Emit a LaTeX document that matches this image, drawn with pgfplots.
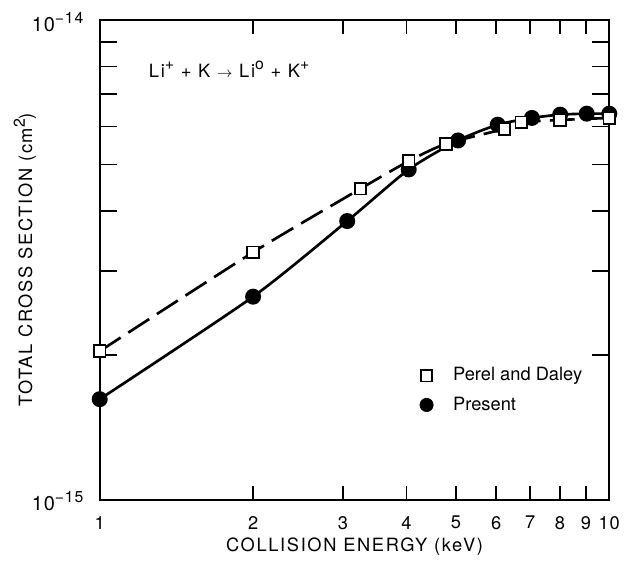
\documentclass[border=0pt]{standalone}
\usepackage{fontspec}
\setmainfont{TeX Gyre Heros}
\newfontfamily\lsfont[LetterSpace=9]{TeX Gyre Heros}
\newfontfamily\tkfont[LetterSpace=5]{TeX Gyre Heros}
\usepackage{pgfplots}
\pgfplotsset{compat=1.18}
\newcommand\sps[1]{\raisebox{0.75ex}{\fontsize{9.5}{9}\selectfont #1}}

\begin{document}
\fontsize{11}{13}\selectfont
\begin{tikzpicture}
  \begin{axis}[
    xmode=log, ymode=log,
    scale only axis,
    width=306.6pt, height=288.6pt,
    xmin=1, xmax=10, ymin=1e-15, ymax=1e-14,
    clip=false,
    /pgf/number format/assume math mode=true,
    xtick={1,2,3,4,5,6,7,8,9,10},
    xticklabels={1,2,3,4,5,6,7,8,9,10},
    ytick={1e-15,1e-14},
    yticklabels={10\sps{−15},10\sps{−14}},
    minor ytick={2e-15,3e-15,4e-15,5e-15,6e-15,7e-15,8e-15,9e-15},
    minor xtick={},
    axis line style={line width=1.3pt},
    every tick/.style={black, line width=1.1pt},
    major tick length=8.5pt,
    minor tick length=10.5pt,
    xticklabel style={yshift=-6pt, font=\tkfont},
    yticklabel style={xshift=-6pt, yshift=-1pt,
      font=\tkfont\fontsize{12}{13}\selectfont},
    xlabel={COLLISION ENERGY (keV)},
    ylabel={TOTAL CROSS SECTION (cm\sps{2})},
    xlabel style={at={(axis description cs:0.5,-0.0977)}, anchor=center,
      font=\lsfont},
    ylabel style={at={(axis description cs:-0.147,0.5)}, anchor=center,
      font=\lsfont},
    legend style={draw=none, fill=none, at={(axis description cs:0.618,0.29)},
      anchor=north west, row sep=4pt, cells={anchor=west},
      /tikz/every odd column/.append style={column sep=10pt}},
  ]
    % present
    \addplot [forget plot, black, line width=1.6pt, smooth, tension=0.4,
      mark=*, mark size=4pt] coordinates {
      (1, 1.62e-15)
      (2, 2.65e-15)
      (3.06, 3.81e-15)
      (4.04, 4.88e-15)
      (5.05, 5.61e-15)
      (6.04, 6.05e-15)
      (7.05, 6.25e-15)
      (8.01, 6.35e-15)
      (9.03, 6.38e-15)
      (10, 6.38e-15)
    };
    % Perel and Daley
    \addplot [forget plot, black, line width=1.6pt, smooth, tension=0.4,
      dash pattern=on 15pt off 5.5pt,
      mark=square*, mark size=3.5pt,
      mark options={solid, fill=white, line width=1.1pt}] coordinates {
      (1, 2.04e-15)
      (2, 3.28e-15)
      (3.25, 4.45e-15)
      (4.04, 5.08e-15)
      (4.78, 5.52e-15)
      (6.23, 5.93e-15)
      (6.72, 6.12e-15)
      (8.01, 6.19e-15)
      (10, 6.25e-15)
    };
    \addlegendimage{only marks, mark=square*, mark size=3.5pt,
      mark options={fill=white, line width=1.1pt}}
    \addlegendentry{Perel and Daley}
    \addlegendimage{only marks, mark=*, mark size=4pt}
    \addlegendentry{Present}
    \node [anchor=base west, font=\lsfont] at (rel axis cs:0.084,0.881)
      {Li\sps{+} + K {\small$\rightarrow$} Li\sps{o} + K\sps{+}};
  \end{axis}
  \path ([shift={(-60pt,-35.4pt)}]current axis.south west)
    rectangle ([shift={(9pt,12pt)}]current axis.north east);
\end{tikzpicture}
\end{document}
